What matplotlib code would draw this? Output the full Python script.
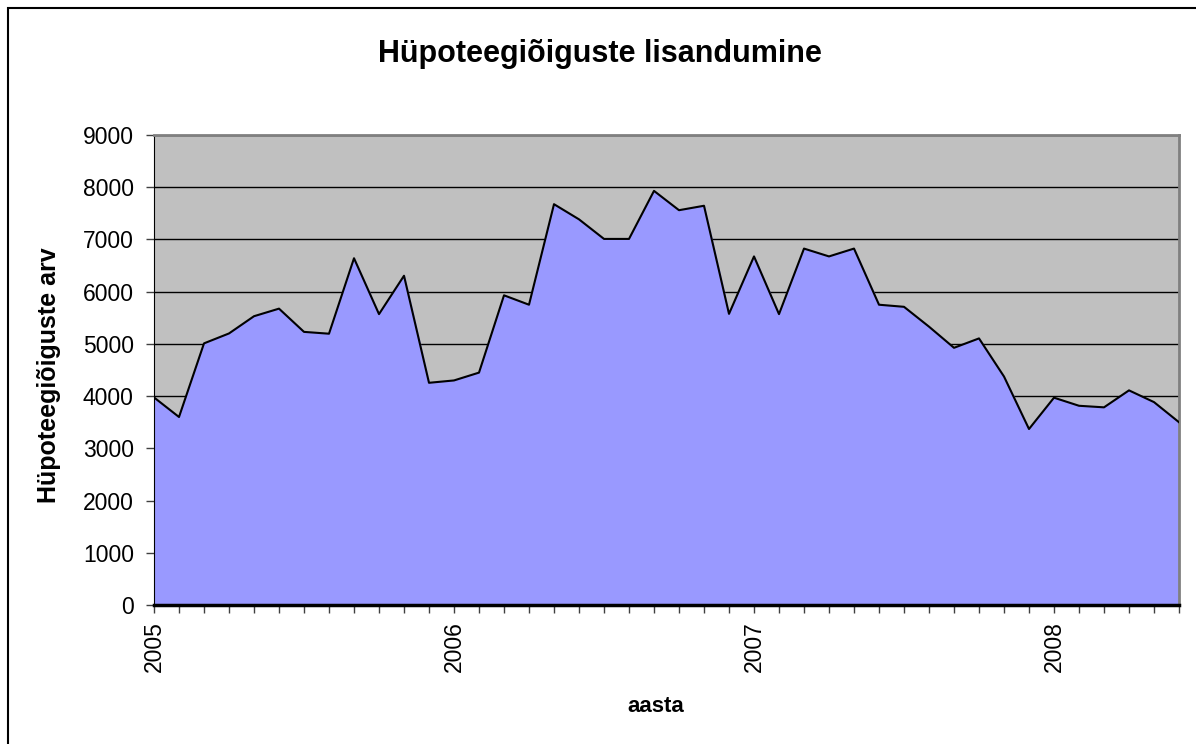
import matplotlib.pyplot as plt
import matplotlib.patches as mpatches
import numpy as np

plt.rcParams['font.family'] = ['Liberation Sans', 'DejaVu Sans']

# monthly values, Jan 2005 .. Jun 2008
values = [3975, 3600, 5010, 5200, 5530, 5675, 5230, 5195, 6640, 5570, 6305, 4255,
          4300, 4450, 5930, 5750, 7675, 7385, 7010, 7010, 7930, 7560, 7645, 5575,
          6675, 5570, 6825, 6675, 6825, 5750, 5710, 5330, 4925, 5105, 4375, 3370,
          3970, 3815, 3785, 4110, 3885, 3500]
years = ['2005', '2006', '2007', '2008']
yticks = list(range(0, 9001, 1000))

x = np.arange(len(values))

fig = plt.figure(figsize=(11.96, 7.44), dpi=100)
ax = fig.add_axes([154/1196, 1 - 605/744, (1179 - 154)/1196, (605 - 135)/744])

ax.set_facecolor('#c0c0c0')
ax.fill_between(x, values, 0, color='#9999ff', zorder=2)
ax.plot(x, values, color='black', lw=1.5, zorder=3)

ax.set_xlim(0, len(values) - 1)
ax.set_ylim(0, 9000)
ax.set_yticks(yticks)
ax.set_yticklabels([str(v) for v in yticks], fontsize=16.5)
ax.grid(axis='y', color='black', lw=1, zorder=1)
ax.set_axisbelow(True)

ax.set_xticks(x[::12])
ax.set_xticklabels(years, rotation=90, fontsize=16.5)
ax.set_xticks(x, minor=True)
ax.tick_params(axis='x', which='both', length=5.5, width=1, color='#404040', pad=6)
ax.tick_params(axis='y', length=5.5, width=1, color='#404040', pad=9)

for s in ['top', 'right']:
    ax.spines[s].set_color('#808080')
    ax.spines[s].set_linewidth(2)
ax.spines['left'].set_color('black')
ax.spines['bottom'].set_color('black')
ax.spines['bottom'].set_linewidth(2.5)
ax.spines['bottom'].set_zorder(4)

fig.text(49/1196, 1 - 375/744, 'Hüpoteegiõiguste arv', rotation=90, ha='center',
         va='center', fontsize=18, fontweight='bold')
fig.text(656/1196, 1 - 707/744, 'aasta', ha='center', va='center',
         fontsize=16, fontweight='bold')
fig.text(600/1196, 1 - 54/744, 'Hüpoteegiõiguste lisandumine', ha='center', va='center',
         fontsize=22, fontweight='bold')

# chart area frame
fig.patches.append(mpatches.Rectangle((8/1196, -0.1), 1.2, 1 - 8/744 + 0.1,
                                      transform=fig.transFigure, fill=False,
                                      edgecolor='black', lw=1.5))

fig.savefig('out.png', dpi=100)
